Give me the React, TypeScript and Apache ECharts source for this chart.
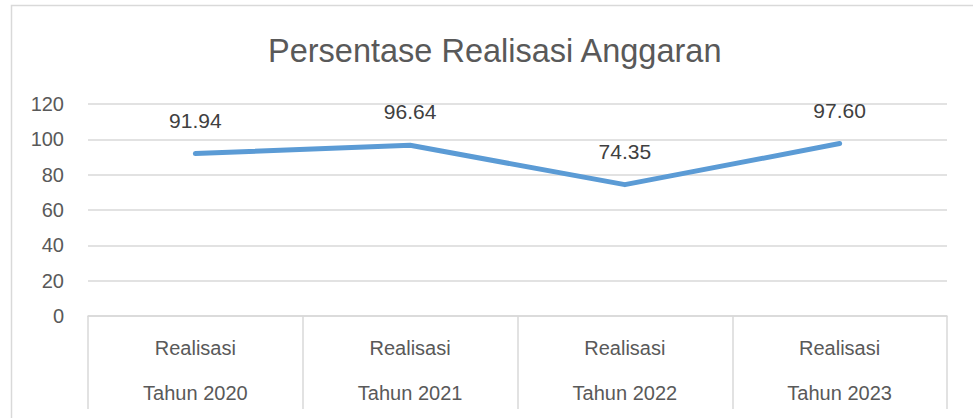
import React, { useEffect, useRef } from "react";
import * as echarts from "echarts";

const categories = ["Realisasi\nTahun 2020", "Realisasi\nTahun 2021", "Realisasi\nTahun 2022", "Realisasi\nTahun 2023"];
const values = [91.94, 96.64, 74.35, 97.6];
const yMin = 0;
const yMax = 120;
const yInterval = 20;
const title = "Persentase Realisasi Anggaran";

const FONT = "'Liberation Sans', Arial, sans-serif";
const GRID_COLOR = "#d9d9d9";

export default function App() {
  const ref = useRef<HTMLDivElement>(null);
  useEffect(() => {
    if (!ref.current) return;
    const chart = echarts.init(ref.current, null, { renderer: "svg" });
    chart.setOption({
      animation: false,
      backgroundColor: "#ffffff",
      textStyle: { fontFamily: FONT },
      title: {
        text: title,
        left: 263,
        top: 29,
        textStyle: { fontFamily: FONT, fontSize: 32.5, fontWeight: "normal", color: "#595959" },
      },
      graphic: [
        {
          type: "rect",
          shape: { x: 11.5, y: 5.5, width: 1000, height: 500 },
          style: { fill: "none", stroke: GRID_COLOR, lineWidth: 1.5 },
          silent: true,
        },
      ],
      grid: { left: 88, right: 26, top: 104, bottom: 102, containLabel: false },
      xAxis: {
        type: "category",
        data: categories,
        boundaryGap: true,
        axisLine: { show: true, lineStyle: { color: GRID_COLOR, width: 1.5 } },
        axisTick: { show: true, length: 93, alignWithLabel: false, lineStyle: { color: GRID_COLOR, width: 1.5 } },
        axisLabel: {
          margin: 9,
          fontFamily: FONT,
          fontSize: 20,
          color: "#595959",
          lineHeight: 45,
          interval: 0,
        },
        splitLine: { show: false },
      },
      yAxis: {
        type: "value",
        min: yMin,
        max: yMax,
        interval: yInterval,
        axisLine: { show: false },
        axisTick: { show: false },
        axisLabel: { margin: 24, fontFamily: FONT, fontSize: 20, color: "#595959" },
        splitLine: { show: true, lineStyle: { color: GRID_COLOR, width: 1.5 } },
      },
      series: [
        {
          type: "line",
          data: values,
          symbol: "circle",
          symbolSize: 2,
          showSymbol: true,
          itemStyle: { color: "#5b9bd5", borderWidth: 0 },
          lineStyle: { color: "#5b9bd5", width: 5, cap: "round", join: "round" },
          label: {
            show: true,
            position: "top",
            distance: 22,
            fontFamily: FONT,
            fontSize: 21,
            color: "#404040",
            formatter: (p: any) => Number(p.value).toFixed(2),
          },
          labelLayout: { hideOverlap: false },
        },
      ],
    });
    return () => chart.dispose();
  }, []);
  return (
    <div
      ref={ref}
      style={{ position: "fixed", left: 0, top: 0, width: 973, height: 418, background: "#fff" }}
    />
  );
}
